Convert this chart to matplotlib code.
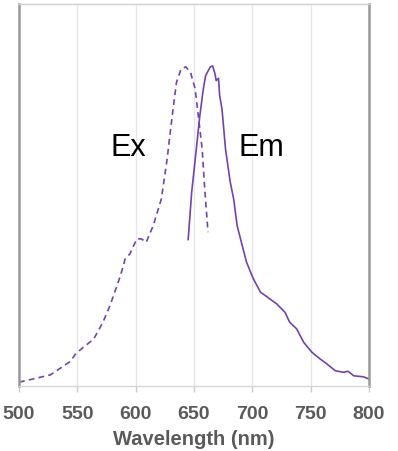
import numpy as np
import matplotlib
matplotlib.use("Agg")
import matplotlib.pyplot as plt

# Excitation spectrum (dashed), normalised intensity
ex_wl = [500, 512, 527, 544, 549, 564, 572, 578, 587, 591, 595, 601, 605, 609,
         615, 622, 627, 631, 635, 639, 643, 647, 651, 654, 657, 659, 662]
ex_val = [0.012, 0.022, 0.035, 0.077, 0.103, 0.147, 0.200, 0.252, 0.346, 0.398,
          0.414, 0.461, 0.461, 0.450, 0.502, 0.586, 0.712, 0.837, 0.952, 0.994,
          1.000, 0.983, 0.931, 0.837, 0.743, 0.628, 0.482]

# Emission spectrum (solid)
em_wl = [645, 648, 652, 655, 658, 660, 664, 666, 668, 669, 671, 672, 674, 677,
         681, 684, 687, 695, 701, 707, 715, 721, 728, 732, 738, 744, 751, 758,
         764, 771, 778, 782, 787, 795, 800]
em_val = [0.459, 0.607, 0.743, 0.847, 0.931, 0.973, 1.000, 1.003, 0.978, 0.957,
          0.964, 0.910, 0.868, 0.743, 0.640, 0.586, 0.502, 0.388, 0.335, 0.294,
          0.273, 0.257, 0.231, 0.200, 0.179, 0.137, 0.106, 0.085, 0.069, 0.048,
          0.043, 0.046, 0.032, 0.029, 0.022]

xticks = [500, 550, 600, 650, 700, 750, 800]
line_color = '#7442ad'
gray_txt = '#5a5a5a'

plt.rcParams['font.family'] = ['Liberation Sans', 'DejaVu Sans']

fig = plt.figure(figsize=(3.98, 4.52), dpi=100)
ax = fig.add_axes([19 / 398, 65 / 452, 350 / 398, 382 / 452])

ax.plot(ex_wl, ex_val, color=line_color, lw=1.2, linestyle=(0, (3.5, 2.5)))
ax.plot(em_wl, em_val, color=line_color, lw=1.2)

ax.set_xlim(500, 800)
ax.set_ylim(0, 1.197)
ax.set_xticks(xticks)
ax.set_yticks([])
ax.grid(axis='x', color='#e6e6e6', lw=1)
ax.set_axisbelow(True)

ax.tick_params(axis='x', length=4, width=1, color='#cccccc', colors=gray_txt,
               labelsize=14, pad=10)
for lab in ax.get_xticklabels():
    lab.set_fontweight('bold')
ax.set_xlabel('Wavelength (nm)', fontsize=14.5, color=gray_txt,
              fontweight='bold', labelpad=5)

ax.spines['left'].set_color('#999999')
ax.spines['left'].set_linewidth(1.8)
ax.spines['right'].set_color('#999999')
ax.spines['right'].set_linewidth(1.8)
ax.spines['top'].set_color('#cfcfcf')
ax.spines['top'].set_linewidth(1)
ax.spines['bottom'].set_color('#d6d6d6')
ax.spines['bottom'].set_linewidth(1)

ax.text(594, 0.75, 'Ex', fontsize=22, color='black', ha='center', va='center')
ax.text(708, 0.75, 'Em', fontsize=22, color='black', ha='center', va='center')

fig.savefig('out.png', dpi=100, facecolor='white')
